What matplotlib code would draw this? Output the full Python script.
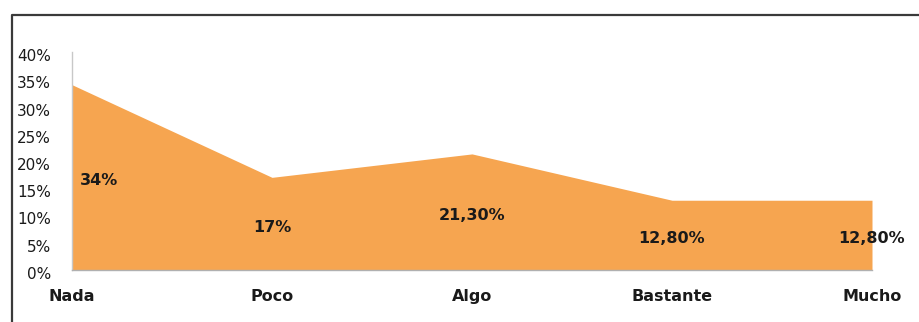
import matplotlib
matplotlib.use("Agg")
import matplotlib.pyplot as plt
from matplotlib.lines import Line2D
from matplotlib.ticker import FuncFormatter
from matplotlib.transforms import ScaledTranslation

categories = ["Nada", "Poco", "Algo", "Bastante", "Mucho"]
values = [0.34, 0.17, 0.213, 0.128, 0.128]
value_labels = ["34%", "17%", "21,30%", "12,80%", "12,80%"]
y_ticks = [0.0, 0.05, 0.10, 0.15, 0.20, 0.25, 0.30, 0.35, 0.40]

W, H = 919, 322
fig = plt.figure(figsize=(W / 100, H / 100), dpi=100)
fig.patch.set_facecolor("white")

ax = fig.add_axes([72 / W, 52 / H, 800 / W, 218 / H])
x = list(range(len(categories)))
ax.fill_between(x, values, 0, color="#F6A550", linewidth=0)

ax.set_xlim(0, len(categories) - 1)
ax.set_ylim(0, 0.40)
ax.set_yticks(y_ticks)
ax.yaxis.set_major_formatter(FuncFormatter(lambda v, p: f"{round(v * 100):d}%"))
ax.set_xticks(x)
ax.set_xticklabels(categories, fontweight="bold", fontsize=11.5, color="#1a1a1a")
ax.tick_params(axis="y", length=0, pad=15, labelsize=11, labelcolor="#1a1a1a")
ax.tick_params(axis="x", length=0, pad=14)

# nudge the y tick labels slightly downward
shift_down = ScaledTranslation(0, -3 / 100, fig.dpi_scale_trans)
for t in ax.yaxis.get_major_ticks():
    t.label1.set_transform(t.label1.get_transform() + shift_down)

for s in ["top", "right"]:
    ax.spines[s].set_visible(False)
ax.spines["left"].set_color("#C8C8C8")
ax.spines["bottom"].set_color("#B0B0B0")
ax.spines["left"].set_linewidth(1.0)
ax.spines["bottom"].set_linewidth(1.0)

# data labels at the middle of each column's height
offsets = [0.135, 0, 0, 0, 0]
label_shift = ScaledTranslation(0, -3.5 / 100, fig.dpi_scale_trans)
for xi, v, lab, dx in zip(x, values, value_labels, offsets):
    ax.text(xi + dx, v / 2, lab, ha="center", va="center",
            fontsize=11.5, fontweight="bold", color="#1a1a1a", clip_on=False,
            transform=ax.transData + label_shift)

# outer frame (left and top edges)
fig.add_artist(Line2D([11.5 / W, 11.5 / W, 1.0], [0.0, 1 - 14.5 / H, 1 - 14.5 / H],
                      transform=fig.transFigure, color="#3a3a3a", linewidth=1.6))

fig.savefig("out.png", dpi=100)
